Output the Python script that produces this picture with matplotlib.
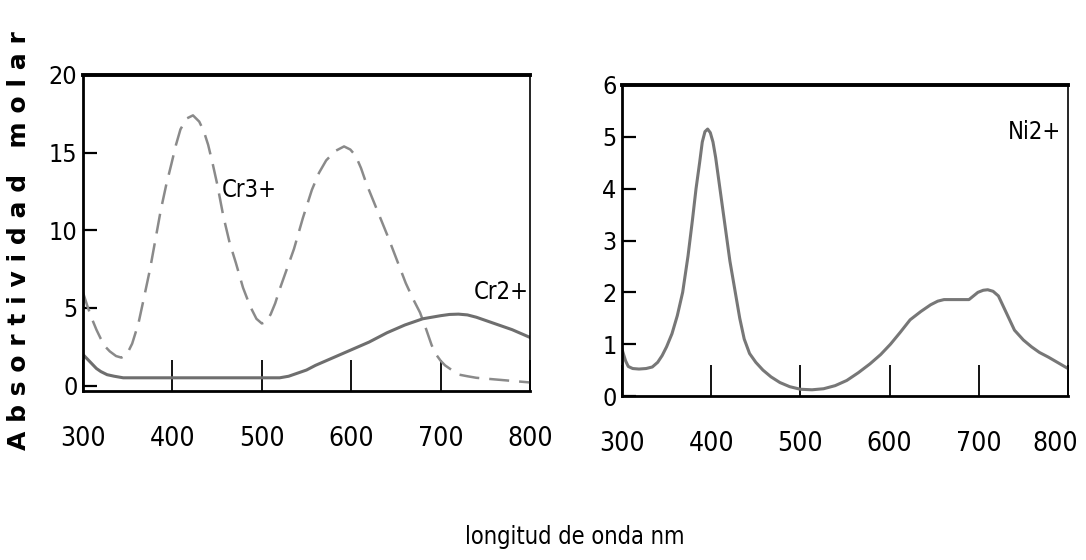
import matplotlib.pyplot as plt
from matplotlib.transforms import ScaledTranslation

# Cr3+ (dashed) and Cr2+ (solid), left panel
cr3_nm = [300, 305, 310, 315, 320, 325, 330, 337, 343, 349, 355, 362, 368, 375, 381, 387, 393,
          399, 404, 409, 416, 423, 430, 435, 440, 445, 450, 457, 464, 471, 479, 487, 494, 500,
          505, 510, 515, 520, 528, 536, 546, 556, 564, 572, 582, 592, 599, 605, 611, 617, 629,
          641, 651, 661, 669, 677, 684, 690, 695, 700, 705, 710, 715, 721, 730, 740, 760, 780, 800]
cr3_abs = [6.0, 5.1, 4.3, 3.6, 3.0, 2.5, 2.2, 1.9, 1.8, 2.0, 2.7, 4.0, 5.6, 7.5, 9.4, 11.3, 12.9,
           14.3, 15.5, 16.5, 17.2, 17.4, 17.0, 16.4, 15.5, 14.3, 13.0, 10.9, 9.2, 7.9, 6.3, 5.1,
           4.3, 4.0, 4.1, 4.6, 5.3, 6.2, 7.5, 8.8, 10.8, 12.6, 13.7, 14.5, 15.1, 15.4, 15.2, 14.8,
           14.0, 13.0, 11.3, 9.6, 8.1, 6.6, 5.6, 4.7, 3.6, 2.6, 2.0, 1.6, 1.3, 1.1, 0.9, 0.7, 0.6,
           0.5, 0.4, 0.3, 0.2]

cr2_nm = [300, 305, 310, 315, 320, 327, 335, 345, 360, 400, 450, 500, 520, 530, 540, 550, 560,
          570, 580, 590, 600, 610, 620, 630, 640, 650, 660, 670, 680, 690, 700, 710, 720, 730,
          740, 750, 760, 770, 780, 790, 800]
cr2_abs = [2.0, 1.7, 1.4, 1.1, 0.9, 0.7, 0.6, 0.5, 0.5, 0.5, 0.5, 0.5, 0.5, 0.6, 0.8, 1.0, 1.3,
           1.55, 1.8, 2.05, 2.3, 2.55, 2.8, 3.1, 3.4, 3.65, 3.9, 4.1, 4.3, 4.4, 4.5, 4.58, 4.6,
           4.55, 4.4, 4.2, 4.0, 3.8, 3.6, 3.35, 3.1]

# Ni2+, right panel
ni_nm = [300, 304, 307, 312, 319, 327, 334, 340, 345, 350, 356, 362, 368, 374, 379, 383, 387,
         390, 393, 396, 399, 402, 405, 409, 415, 421, 427, 432, 437, 443, 450, 458, 467, 477,
         488, 500, 513, 526, 539, 552, 565, 578, 590, 601, 612, 623, 635, 646, 654, 661, 675,
         689, 694, 699, 705, 710, 716, 722, 731, 740, 750, 759, 768, 778, 788, 800]
ni_abs = [0.9, 0.68, 0.57, 0.53, 0.52, 0.53, 0.56, 0.65, 0.78, 0.95, 1.2, 1.55, 2.0, 2.7, 3.4,
          4.0, 4.5, 4.9, 5.1, 5.15, 5.08, 4.9, 4.6, 4.1, 3.35, 2.6, 2.0, 1.5, 1.1, 0.82, 0.65,
          0.5, 0.37, 0.26, 0.18, 0.13, 0.12, 0.14, 0.2, 0.3, 0.45, 0.62, 0.8, 1.0, 1.23, 1.47,
          1.63, 1.76, 1.83, 1.86, 1.86, 1.86, 1.93, 2.0, 2.04, 2.05, 2.02, 1.93, 1.6, 1.27, 1.08,
          0.95, 0.84, 0.75, 0.65, 0.53]

x_ticks = [300, 400, 500, 600, 700, 800]
left_yticks = [0, 5, 10, 15, 20]
right_yticks = [0, 1, 2, 3, 4, 5, 6]

plt.rcParams["font.family"] = ["DejaVu Sans Condensed", "DejaVu Sans"]
plt.rcParams["font.stretch"] = "condensed"

W, H = 1086, 560
fig = plt.figure(figsize=(W / 100, H / 100), dpi=100)
ax1 = fig.add_axes([83 / W, 1 - 391 / H, (530 - 83) / W, (391 - 75) / H])
ax2 = fig.add_axes([622 / W, 1 - 396 / H, (1068 - 622) / W, (396 - 85) / H])

ax1.plot(cr3_nm, cr3_abs, color="#8a8a8a", lw=1.8, dashes=(8, 4))
ax1.plot(cr2_nm, cr2_abs, color="#6e6e6e", lw=2.2)
ax1.set_ylim(-0.35, 20)
ax1.set_yticks(left_yticks)
ax1.text(455, 12.6, "Cr3+", fontsize=17, va="center", ha="left")
ax1.text(737, 6.0, "Cr2+", fontsize=17, va="center", ha="left")

ax2.plot(ni_nm, ni_abs, color="#777777", lw=2.2)
ax2.set_ylim(0, 6)
ax2.set_yticks(right_yticks)
ax2.text(733, 5.1, "Ni2+", fontsize=17, va="center", ha="left")

for ax in (ax1, ax2):
    ax.set_xlim(300, 800)
    ax.set_xticks(x_ticks)
    ax.tick_params(axis="x", direction="in", length=22, width=1.3, pad=25, labelsize=19)
    ax.tick_params(axis="y", direction="in", length=10, width=1.6, pad=4, labelsize=18)
    for side in ("left", "bottom"):
        ax.spines[side].set_linewidth(2.0)
    ax.spines["top"].set_linewidth(2.8)
    ax.spines["right"].set_linewidth(1.2)

# keep the last label of the right panel inside the figure
last = ax2.get_xticklabels()[-1]
last.set_horizontalalignment("right")
last.set_transform(last.get_transform() + ScaledTranslation(10 / 100, 0, fig.dpi_scale_trans))

fig.text(19 / W, 1 - 241 / H, "A b s o r t i v i d a d   m o l a r", rotation=90,
         ha="center", va="center", fontsize=18, fontweight="bold", family="DejaVu Sans",
         fontstretch="normal")
fig.text(575 / W, 1 - 537 / H, "longitud de onda nm", ha="center", va="center", fontsize=17)

fig.savefig("out.png", dpi=100)
